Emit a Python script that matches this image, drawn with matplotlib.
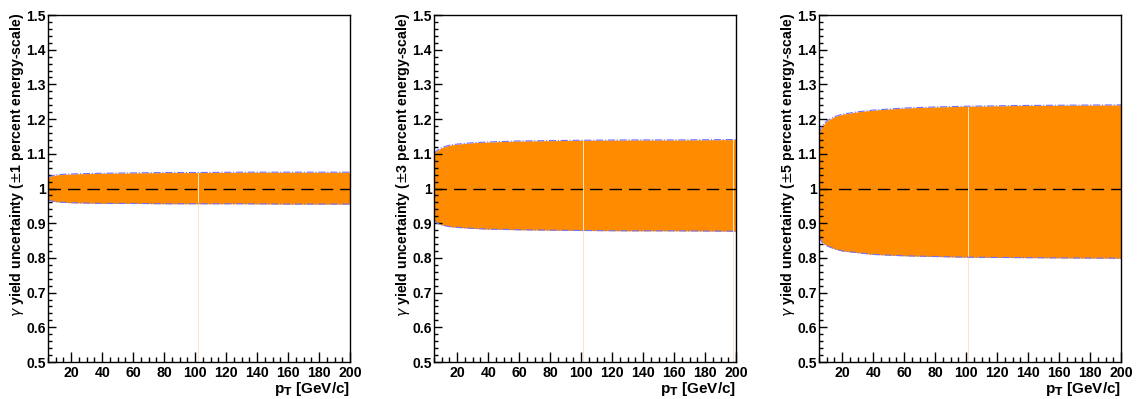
import numpy as np
import matplotlib.pyplot as plt
from matplotlib.ticker import MultipleLocator

plt.rcParams['font.family'] = ['Liberation Sans', 'DejaVu Sans']

# pT points (GeV/c)
pt = [5, 7, 10, 15, 20, 30, 40, 60, 80, 100, 130, 160, 200]

# +-1 percent energy scale
up_1 = [1.032, 1.036, 1.039, 1.041, 1.042, 1.043, 1.044, 1.045, 1.046, 1.046, 1.047, 1.047, 1.047]
lo_1 = [0.968, 0.964, 0.962, 0.960, 0.959, 0.958, 0.957, 0.957, 0.956, 0.956, 0.956, 0.955, 0.955]
# +-3 percent
up_3 = [1.100, 1.110, 1.118, 1.125, 1.128, 1.132, 1.134, 1.137, 1.138, 1.139, 1.140, 1.140, 1.141]
lo_3 = [0.910, 0.900, 0.895, 0.890, 0.888, 0.885, 0.883, 0.881, 0.880, 0.879, 0.878, 0.878, 0.877]
# +-5 percent
up_5 = [1.160, 1.180, 1.195, 1.207, 1.214, 1.221, 1.226, 1.232, 1.235, 1.237, 1.239, 1.240, 1.241]
lo_5 = [0.860, 0.845, 0.835, 0.826, 0.820, 0.815, 0.810, 0.806, 0.804, 0.802, 0.801, 0.800, 0.799]

scales = [1, 3, 5]
uppers = [up_1, up_3, up_5]
lowers = [lo_1, lo_3, lo_5]
# faint gaps in the filled band
gaps = [[101.8], [101.0, 197.9], [101.0]]

fig = plt.figure(figsize=(11.4, 3.99), dpi=100)
lefts = [48, 434, 819]

for i in range(3):
    ax = fig.add_axes([lefts[i] / 1140, 37 / 399, 302 / 1140, 347 / 399])
    ax.fill_between(pt, lowers[i], uppers[i], color='#ff8c00', lw=0, zorder=1)
    ax.plot(pt, uppers[i], color='#7070ff', lw=0.8, ls='-.', zorder=2)
    ax.plot(pt, lowers[i], color='#7070ff', lw=0.8, ls='-.', zorder=2)
    for g in gaps[i]:
        top = np.interp(g, pt, uppers[i])
        ax.plot([g, g], [0.5, top], color='#ffe4c8', lw=0.7, zorder=1.5)
    ax.plot([5, 200], [1, 1], color='black', lw=1.0, ls=(0, (9, 5)), zorder=3)

    ax.set_xlim(5, 200)
    ax.set_ylim(0.5, 1.5)
    ax.xaxis.set_major_locator(MultipleLocator(20))
    ax.xaxis.set_minor_locator(MultipleLocator(5))
    ax.yaxis.set_minor_locator(MultipleLocator(0.02))
    ax.set_yticks(np.arange(0.5, 1.51, 0.1))
    ax.set_yticklabels(['0.5', '0.6', '0.7', '0.8', '0.9', '1', '1.1', '1.2', '1.3', '1.4', '1.5'])
    ax.tick_params(which='both', direction='in', top=False, right=False, width=1)
    ax.tick_params(axis='x', which='major', length=7, pad=3, labelsize=10.2)
    ax.tick_params(axis='x', which='minor', length=3.5)
    ax.tick_params(axis='y', which='major', length=6, pad=1.5, labelsize=10)
    ax.tick_params(axis='y', which='minor', length=3)
    for lab in ax.get_xticklabels() + ax.get_yticklabels():
        lab.set_fontweight('bold')
    for s in ax.spines.values():
        s.set_linewidth(1.0)

    ax.text(-0.104, 1.006, r'$\gamma$ yield uncertainty ($\pm$%d percent energy-scale)' % scales[i],
            transform=ax.transAxes, rotation=90, ha='center', va='top',
            fontsize=10.2, fontweight='bold')
    ax.text(1.0, -0.052, r'p$_\mathbf{T}$ [GeV/c]', transform=ax.transAxes,
            ha='right', va='top', fontsize=11, fontweight='bold')

fig.savefig('out.png', dpi=100)
